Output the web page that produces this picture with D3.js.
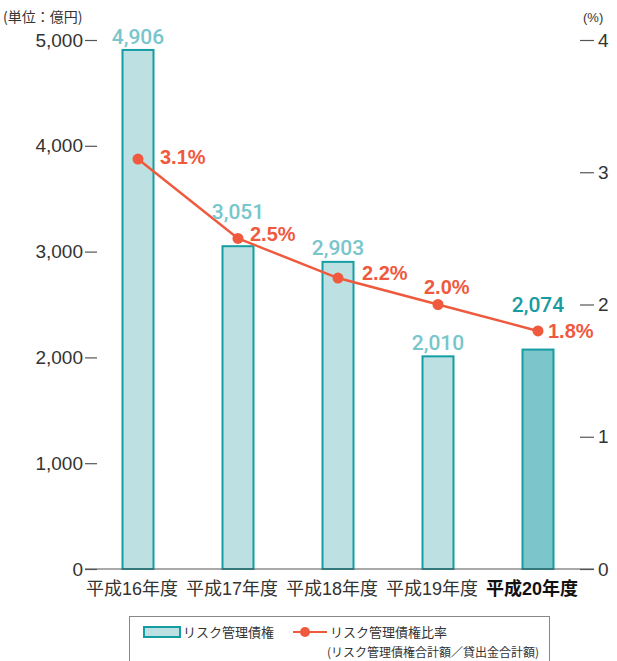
<!DOCTYPE html>
<html>
<head>
<meta charset="utf-8">
<script src="https://cdn.jsdelivr.net/npm/d3@7"></script>
<style>
  body { margin: 0; background: #fff; }
  svg { display: block; }
</style>
</head>
<body>
<div id="chart"></div>
<script>
// Chart data
const years = ["平成16年度", "平成17年度", "平成18年度", "平成19年度", "平成20年度"];
const riskLoans = [4906, 3051, 2903, 2010, 2074];   // 億円
const riskRatio = [3.1, 2.5, 2.2, 2.0, 1.8];         // %
const leftTicks = [0, 1000, 2000, 3000, 4000, 5000];
const rightTicks = [0, 1, 2, 3, 4];

// Layout
const width = 617;
const height = 661;
const plotTop = 40;
const plotBottom = 569;
const axisLeftX = 85;
const axisRightX = 594;

const numFont = "'Liberation Sans', Arial, Helvetica, sans-serif";
const valueFont = "Roboto, 'Liberation Sans', Arial, sans-serif";
const jpFont = "'Liberation Sans', 'Noto Sans CJK JP', sans-serif";

const barFill = "#bde0e2";
const barFillLast = "#7cc5cb";
const barStroke = "#149da2";
const lineColor = "#ef5a3f";
const valueColor = "#78c6cb";
const valueColorLast = "#1a9ba0";
const textColor = "#333";

// label offsets for the percentage labels (dx, dy from point)
const pctOffsets = [[22, -2], [12, -5], [24, -5], [-14, -18], [10, 0]];

const svg = d3.select("#chart")
    .append("svg")
    .attr("width", width)
    .attr("height", height);

// Scales
const x = d3.scaleBand()
    .domain(years)
    .range([88, 588])
    .paddingInner(0.69)
    .paddingOuter(0.345);

const yLeft = d3.scaleLinear().domain([0, 5000]).range([plotBottom, plotTop]);
const yRight = d3.scaleLinear().domain([0, 4]).range([plotBottom, plotTop]);

// Unit labels
svg.append("text")
    .attr("x", 3)
    .attr("y", 22)
    .attr("font-family", "'Noto Sans CJK JP', sans-serif")
    .attr("font-size", 14)
    .attr("fill", textColor)
    .text("(単位：億円)");

svg.append("text")
    .attr("x", 583)
    .attr("y", 22)
    .attr("font-family", numFont)
    .attr("font-size", 13)
    .attr("fill", textColor)
    .text("(%)");

// Left axis
const leftAxis = svg.append("g")
    .attr("transform", "translate(" + axisLeftX + ",0)")
    .call(d3.axisLeft(yLeft)
        .tickValues(leftTicks)
        .tickSize(-12)
        .tickPadding(2)
        .tickFormat(d3.format(",")));
leftAxis.select(".domain").remove();
leftAxis.selectAll("line").attr("stroke", "#555").attr("stroke-width", 1.2);
leftAxis.selectAll("text")
    .attr("font-family", numFont)
    .attr("font-size", 19)
    .attr("fill", textColor);

// Right axis
const rightAxis = svg.append("g")
    .attr("transform", "translate(" + axisRightX + ",0)")
    .call(d3.axisRight(yRight)
        .tickValues(rightTicks)
        .tickSize(-14)
        .tickPadding(4)
        .tickFormat(d3.format("d")));
rightAxis.select(".domain").remove();
rightAxis.selectAll("line").attr("stroke", "#555").attr("stroke-width", 1.2);
rightAxis.selectAll("text")
    .attr("font-family", numFont)
    .attr("font-size", 19)
    .attr("fill", textColor);

// Bars
svg.selectAll(".bar")
    .data(riskLoans)
    .enter()
    .append("rect")
    .attr("class", "bar")
    .attr("x", (d, i) => x(years[i]))
    .attr("y", d => yLeft(d))
    .attr("width", x.bandwidth())
    .attr("height", d => plotBottom - yLeft(d))
    .attr("fill", (d, i) => i === years.length - 1 ? barFillLast : barFill)
    .attr("stroke", barStroke)
    .attr("stroke-width", 2);

// Baseline
svg.append("line")
    .attr("x1", axisLeftX)
    .attr("x2", axisRightX)
    .attr("y1", plotBottom)
    .attr("y2", plotBottom)
    .attr("stroke", "#555")
    .attr("stroke-width", 1.2);

// Category labels
svg.selectAll(".cat")
    .data(years)
    .enter()
    .append("text")
    .attr("class", "cat")
    .attr("x", d => x(d) + x.bandwidth() / 2 - 6)
    .attr("y", 595)
    .attr("text-anchor", "middle")
    .attr("font-family", jpFont)
    .attr("font-size", 18)
    .attr("font-weight", (d, i) => i === years.length - 1 ? "bold" : "normal")
    .attr("fill", (d, i) => i === years.length - 1 ? "#111" : textColor)
    .text(d => d);

// Ratio line
const line = d3.line()
    .x((d, i) => x(years[i]) + x.bandwidth() / 2)
    .y(d => yRight(d));

svg.append("path")
    .datum(riskRatio)
    .attr("d", line)
    .attr("fill", "none")
    .attr("stroke", lineColor)
    .attr("stroke-width", 2.5);

svg.selectAll(".dot")
    .data(riskRatio)
    .enter()
    .append("circle")
    .attr("class", "dot")
    .attr("cx", (d, i) => x(years[i]) + x.bandwidth() / 2)
    .attr("cy", d => yRight(d))
    .attr("r", 5.5)
    .attr("fill", lineColor);

// Value labels over the bars (lifted above the line point when it sits just over the bar)
function valueLabelY(d, i) {
    const barTop = yLeft(d);
    const point = yRight(riskRatio[i]);
    const gap = barTop - point;
    return (gap >= 0 && gap < 40) ? point - 27 : barTop - 14;
}

svg.selectAll(".value")
    .data(riskLoans)
    .enter()
    .append("text")
    .attr("class", "value")
    .attr("x", (d, i) => x(years[i]) + x.bandwidth() / 2)
    .attr("y", valueLabelY)
    .attr("dy", "0.36em")
    .attr("text-anchor", "middle")
    .attr("font-family", valueFont)
    .attr("font-size", 21)
    .attr("font-weight", 500)
    .attr("fill", (d, i) => i === years.length - 1 ? valueColorLast : valueColor)
    .text(d => d3.format(",")(d));

// Percentage labels
svg.selectAll(".pct")
    .data(riskRatio)
    .enter()
    .append("text")
    .attr("class", "pct")
    .attr("x", (d, i) => x(years[i]) + x.bandwidth() / 2 + pctOffsets[i][0])
    .attr("y", (d, i) => yRight(d) + pctOffsets[i][1])
    .attr("dy", "0.36em")
    .attr("font-family", numFont)
    .attr("font-size", 20)
    .attr("font-weight", "bold")
    .attr("fill", lineColor)
    .text(d => d.toFixed(1) + "%");

// Legend
const legend = svg.append("g");

legend.append("rect")
    .attr("x", 129.5)
    .attr("y", 616.5)
    .attr("width", 420)
    .attr("height", 60)
    .attr("fill", "none")
    .attr("stroke", "#888")
    .attr("stroke-width", 1);

legend.append("rect")
    .attr("x", 144)
    .attr("y", 627)
    .attr("width", 36)
    .attr("height", 10)
    .attr("fill", barFill)
    .attr("stroke", barStroke)
    .attr("stroke-width", 2);

legend.append("text")
    .attr("x", 183)
    .attr("y", 637)
    .attr("font-family", "'Noto Sans CJK JP', sans-serif")
    .attr("font-size", 13)
    .attr("fill", textColor)
    .text("リスク管理債権");

legend.append("line")
    .attr("x1", 293)
    .attr("x2", 327)
    .attr("y1", 632)
    .attr("y2", 632)
    .attr("stroke", lineColor)
    .attr("stroke-width", 2);

legend.append("circle")
    .attr("cx", 305)
    .attr("cy", 632)
    .attr("r", 5)
    .attr("fill", lineColor);

legend.append("text")
    .attr("x", 330)
    .attr("y", 637)
    .attr("font-family", "'Noto Sans CJK JP', sans-serif")
    .attr("font-size", 13)
    .attr("fill", textColor)
    .text("リスク管理債権比率");

legend.append("text")
    .attr("x", 327)
    .attr("y", 657)
    .attr("font-family", "'Noto Sans CJK JP', sans-serif")
    .attr("font-size", 12)
    .attr("fill", textColor)
    .text("(リスク管理債権合計額／貸出金合計額)");
</script>
</body>
</html>
